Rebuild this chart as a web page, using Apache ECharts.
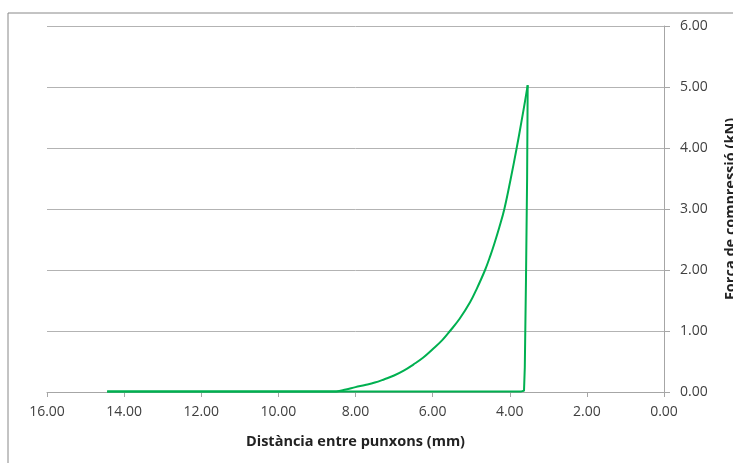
<!DOCTYPE html>
<html>
<head>
<meta charset="utf-8">
<script src="https://cdn.jsdelivr.net/npm/echarts@6/dist/echarts.min.js"></script>
<style>
  html, body { margin: 0; padding: 0; background: #fff; }
  #container { width: 733px; height: 463px; }
</style>
</head>
<body>
<div id="container"></div>
<script>
// distance between punches (mm) and compression force (kN)
var loadDist  = [14.44, 13.0, 12.0, 11.0, 10.0, 9.0, 8.5, 8.25, 8.0, 7.75, 7.5, 7.25, 7.0, 6.75, 6.5, 6.25, 6.0, 5.75, 5.55, 5.3, 5.03, 4.85, 4.64, 4.5, 4.4, 4.27, 4.14, 3.98, 3.82, 3.7, 3.6, 3.535];
var loadForce = [0.01, 0.01, 0.01, 0.01, 0.01, 0.01, 0.01, 0.04, 0.08, 0.115, 0.155, 0.21, 0.27, 0.35, 0.45, 0.56, 0.7, 0.85, 1.0, 1.2, 1.47, 1.7, 2.0, 2.24, 2.43, 2.7, 3.0, 3.48, 4.0, 4.42, 4.78, 5.03];
var unloadDist  = [3.535, 3.55, 3.58, 3.61, 3.63, 3.7, 4.5, 6.0, 8.0, 10.0, 12.0, 14.44];
var unloadForce = [5.03, 3.5, 1.8, 0.4, 0.02, 0.01, 0.01, 0.01, 0.01, 0.01, 0.01, 0.01];

var xTitle = "Distància entre punxons (mm)";
var yTitle = "Força de compressió (kN)";

function pairs(xs, ys) {
    var out = [];
    for (var i = 0; i < xs.length; i++) out.push([xs[i], ys[i]]);
    return out;
}

var myChart = echarts.init(document.getElementById("container"));
var labelFont = { color: "#404040", fontSize: 14, fontFamily: "Open Sans" };
var lineColor = "#00b050";

var option = {
    animation: false,
    grid: { left: 47, right: 69, top: 26, bottom: 71, outerBoundsMode: "none", containLabel: false },
    graphic: [{
        type: "rect",
        shape: { x: 8, y: 13, width: 760, height: 480 },
        style: { fill: "none", stroke: "#888888", lineWidth: 1 },
        silent: true
    }],
    xAxis: {
        type: "value",
        inverse: true,
        min: 0, max: 16, interval: 2,
        name: xTitle,
        nameLocation: "middle",
        nameGap: 42,
        nameTextStyle: { color: "#222", fontSize: 14.5, fontWeight: "bold", fontFamily: "Open Sans" },
        axisLine: { lineStyle: { color: "#a6a6a6" } },
        axisTick: { show: true, length: 5, lineStyle: { color: "#a6a6a6" } },
        axisLabel: Object.assign({ margin: 13, formatter: function (v) { return v.toFixed(2); } }, labelFont),
        splitLine: { show: false }
    },
    yAxis: {
        type: "value",
        position: "right",
        min: 0, max: 6, interval: 1,
        name: yTitle,
        nameLocation: "middle",
        nameRotate: 90,
        nameGap: 59,
        nameTextStyle: { color: "#222", fontSize: 14.5, fontWeight: "bold", fontFamily: "Open Sans" },
        axisLine: { show: true, lineStyle: { color: "#a6a6a6" } },
        axisTick: { show: true, length: 6, lineStyle: { color: "#a6a6a6" } },
        axisLabel: Object.assign({ margin: 16, formatter: function (v) { return v.toFixed(2); } }, labelFont),
        splitLine: { show: true, lineStyle: { color: "#b3b3b3" } }
    },
    series: [
        {
            type: "line",
            data: pairs(loadDist, loadForce),
            showSymbol: false,
            smooth: 0.4,
            lineStyle: { color: lineColor, width: 2 }
        },
        {
            type: "line",
            data: pairs(unloadDist, unloadForce),
            showSymbol: false,
            lineStyle: { color: lineColor, width: 2 }
        }
    ]
};
myChart.setOption(option);
</script>
</body>
</html>
